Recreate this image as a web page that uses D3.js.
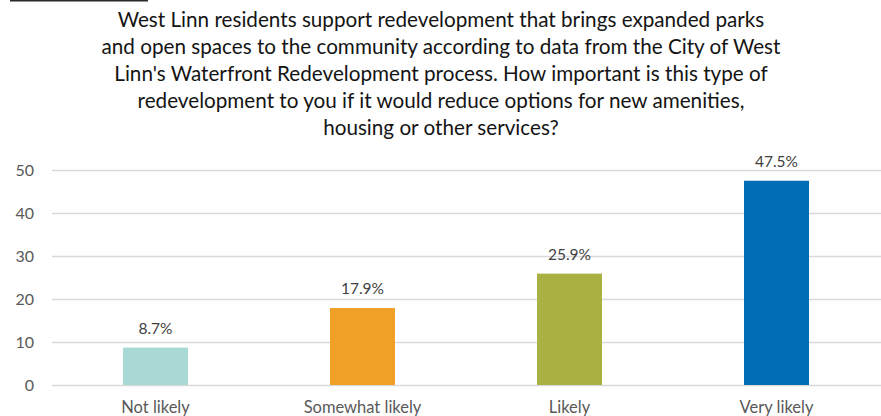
<!DOCTYPE html>
<html>
<head>
<meta charset="utf-8">
<script src="https://cdn.jsdelivr.net/npm/d3@7"></script>
<style>
  html, body { margin: 0; padding: 0; background: #fff; }
  svg { display: block; font-family: Lato, "Open Sans", sans-serif; }
</style>
</head>
<body>
<svg id="chart" width="881" height="416"></svg>
<script>
// Survey responses
const categories = ["Not likely", "Somewhat likely", "Likely", "Very likely"];
const values = [8.7, 17.9, 25.9, 47.5];
const barColors = ["#a9d9d5", "#f09f27", "#a9b142", "#016db6"];
const yTicks = [0, 10, 20, 30, 40, 50];
const titleLines = [
  "West Linn residents support redevelopment that brings expanded parks",
  "and open spaces to the community according to data from the City of West",
  "Linn's Waterfront Redevelopment process. How important is this type of",
  "redevelopment to you if it would reduce options for new amenities,",
  "housing or other services?"
];

const W = 881, H = 416;
const svg = d3.select("#chart");
const margin = { left: 52, right: 1, top: 170, bottom: 31 };

const x = d3.scaleBand()
  .domain(categories)
  .range([margin.left, W - margin.right])
  .paddingInner(0.686)
  .paddingOuter(0.343);

const y = d3.scaleLinear()
  .domain([0, 50])
  .range([H - margin.bottom, margin.top]);

// small rule in the top-left corner
svg.append("line")
  .attr("x1", 10).attr("x2", 148)
  .attr("y1", 0.5).attr("y2", 0.5)
  .attr("stroke", "#2a2a2a").attr("stroke-width", 2);

// title, centred, font sized so the first line spans ~647px
const title = svg.append("g").attr("class", "title");
const lines = title.selectAll("text")
  .data(titleLines)
  .join("text")
  .attr("x", 441)
  .attr("y", (d, i) => 27 + i * 27)
  .attr("text-anchor", "middle")
  .attr("fill", "#141414")
  .style("font-size", "20px")
  .text(d => d);
const w0 = lines.node().getComputedTextLength();
lines.style("font-size", (20 * 647 / w0) + "px");

// gridlines + y tick labels
const yAxis = d3.axisLeft(y).tickValues(yTicks).tickSize(-(W - margin.left)).tickPadding(18);
const gy = svg.append("g")
  .attr("transform", `translate(${margin.left},0)`)
  .call(yAxis);
gy.select(".domain").remove();
gy.selectAll(".tick line").attr("stroke", "#d9d9d9").attr("stroke-width", 1.3);
gy.selectAll(".tick text")
  .attr("fill", "#595959")
  .style("font-size", "16px")
  .style("font-family", "Lato, 'Open Sans', sans-serif");

// bars
svg.append("g").selectAll("rect")
  .data(values)
  .join("rect")
  .attr("x", (d, i) => x(categories[i]))
  .attr("width", x.bandwidth())
  .attr("y", d => y(d))
  .attr("height", d => y(0) - y(d))
  .attr("fill", (d, i) => barColors[i]);

// value labels
svg.append("g").selectAll("text")
  .data(values)
  .join("text")
  .attr("x", (d, i) => x(categories[i]) + x.bandwidth() / 2)
  .attr("y", d => y(d) - 14)
  .attr("text-anchor", "middle")
  .attr("fill", "#404040")
  .style("font-size", "15.5px")
  .text(d => d.toFixed(1) + "%");

// category labels
svg.append("g").selectAll("text")
  .data(categories)
  .join("text")
  .attr("x", d => x(d) + x.bandwidth() / 2)
  .attr("y", 412.5)
  .attr("text-anchor", "middle")
  .attr("fill", "#595959")
  .style("font-size", "16.5px")
  .text(d => d);
</script>
</body>
</html>
